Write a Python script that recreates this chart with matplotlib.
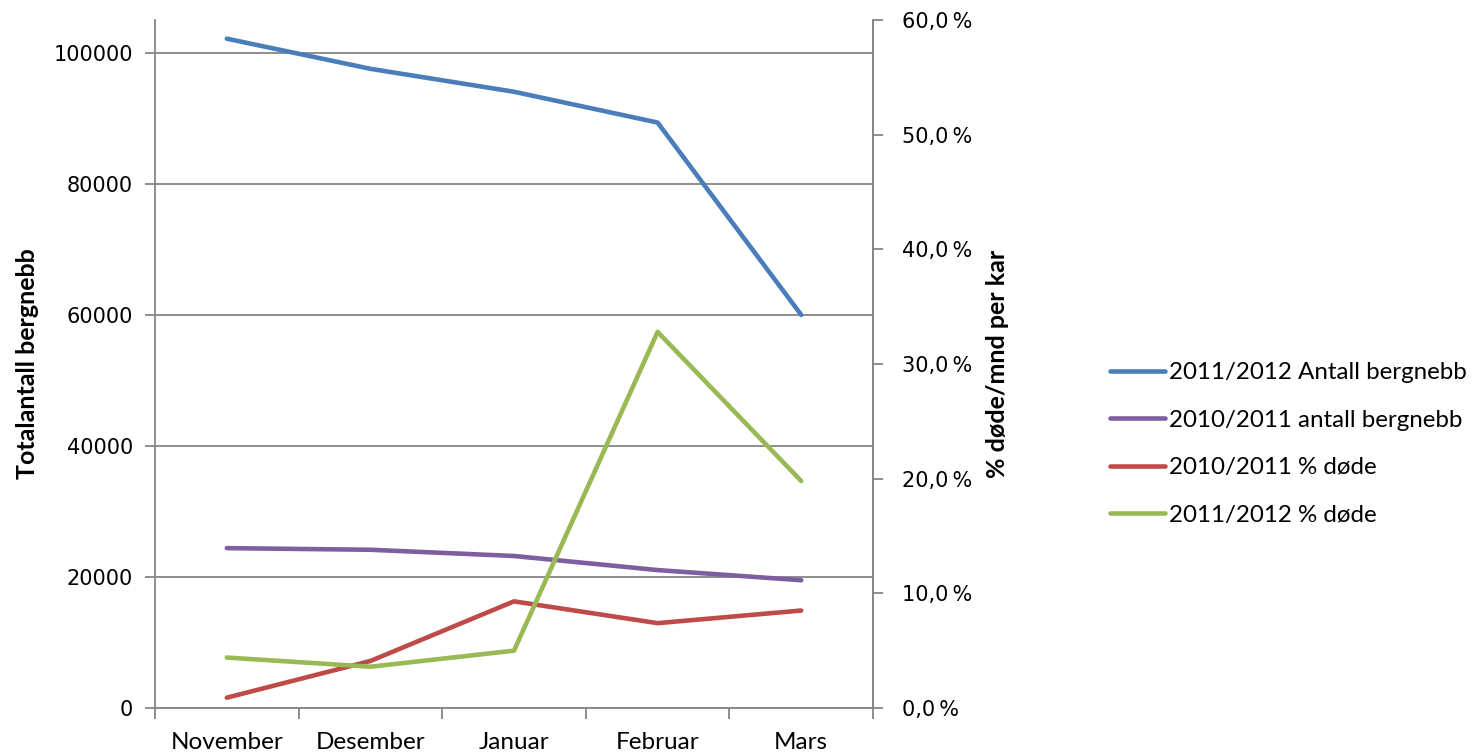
import matplotlib
matplotlib.use("Agg")

import matplotlib.pyplot as plt
from matplotlib.ticker import FuncFormatter

# -----------------------------
# Data
# -----------------------------
months = ["November", "Desember", "Januar", "Februar", "Mars"]

antall_1112 = [102150, 97550, 94050, 89350, 60000]
antall_1011 = [24400, 24150, 23200, 21050, 19500]
dode_1011 = [0.9, 4.1, 9.3, 7.4, 8.5]
dode_1112 = [4.4, 3.6, 5.0, 32.8, 19.8]

labels = [
    "2011/2012 Antall bergnebb",
    "2010/2011 antall bergnebb",
    "2010/2011 % døde",
    "2011/2012 % døde",
]
colors = ["#4A7EBB", "#7D5FA0", "#BE4B48", "#98B954"]

GRAY = "#868686"
TXT_FONT = "Lato"
NUM_FONT = "DejaVu Sans"

# -----------------------------
# Figure
# -----------------------------
fig = plt.figure(figsize=(14.72, 7.56), dpi=100)
ax = fig.add_axes([155 / 1472, 1 - 708 / 756, 718 / 1472, 688 / 756])
ax2 = ax.twinx()

x = list(range(len(months)))
lw = 3.3
l1, = ax.plot(x, antall_1112, color=colors[0], lw=lw, solid_capstyle="round", zorder=3)
l2, = ax.plot(x, antall_1011, color=colors[1], lw=lw, solid_capstyle="round", zorder=3)
l3, = ax2.plot(x, dode_1011, color=colors[2], lw=lw, solid_capstyle="round", zorder=3)
l4, = ax2.plot(x, dode_1112, color=colors[3], lw=lw, solid_capstyle="round", zorder=3)

# left axis
ax.set_xlim(-0.5, len(months) - 0.5)
ax.set_ylim(0, 105000)
ax.set_yticks(range(0, 100001, 20000))
ax.yaxis.grid(True, color=GRAY, lw=1.3)
ax.set_axisbelow(True)
for lab in ax.get_yticklabels():
    lab.set_fontfamily(NUM_FONT)
    lab.set_fontsize(15)
ax.tick_params(axis="y", direction="out", length=7, width=1.3, color=GRAY, pad=9)

# x axis: ticks at category boundaries, labels centered
ax.set_xticks([i - 0.5 for i in range(len(months) + 1)])
ax.set_xticklabels([])
ax.set_xticks(x, minor=True)
ax.set_xticklabels(months, minor=True, fontfamily=TXT_FONT, fontsize=17.5)
ax.tick_params(axis="x", which="major", direction="out", length=8, width=1.3, color=GRAY)
ax.tick_params(axis="x", which="minor", length=0, pad=17)

ax.spines["top"].set_visible(False)
ax2.spines["top"].set_visible(False)
for side in ["left", "bottom", "right"]:
    ax.spines[side].set_color(GRAY)
    ax.spines[side].set_linewidth(1.3)
ax2.spines["right"].set_color(GRAY)
ax2.spines["right"].set_linewidth(1.3)
ax2.spines["left"].set_visible(False)
ax2.spines["bottom"].set_visible(False)

ax.set_ylabel("Totalantall bergnebb", fontfamily=TXT_FONT, fontweight="bold", fontsize=18)
ax.yaxis.set_label_coords(-0.162, 0.5)

# right axis
ax2.set_ylim(0, 60)
ax2.set_yticks(range(0, 61, 10))
ax2.yaxis.set_major_formatter(FuncFormatter(lambda v, p: f"{v:.1f}\u2009%".replace(".", ",")))
for lab in ax2.get_yticklabels():
    lab.set_fontfamily(NUM_FONT)
    lab.set_fontsize(15)
ax2.tick_params(axis="y", direction="out", length=7, width=1.3, color=GRAY, pad=14)
ax2.set_ylabel("% døde/mnd per kar", fontfamily=TXT_FONT, fontweight="bold", fontsize=18)
ax2.yaxis.set_label_coords(1.158, 0.5)

# legend
fig.legend([l1, l2, l3, l4], labels, loc="center left",
           bbox_to_anchor=(1088 / 1472, 1 - 444 / 756), frameon=False,
           prop={"family": TXT_FONT, "size": 17.4}, handlelength=2.27,
           handletextpad=0.2, labelspacing=1.1)

fig.savefig("out.png", dpi=100)
